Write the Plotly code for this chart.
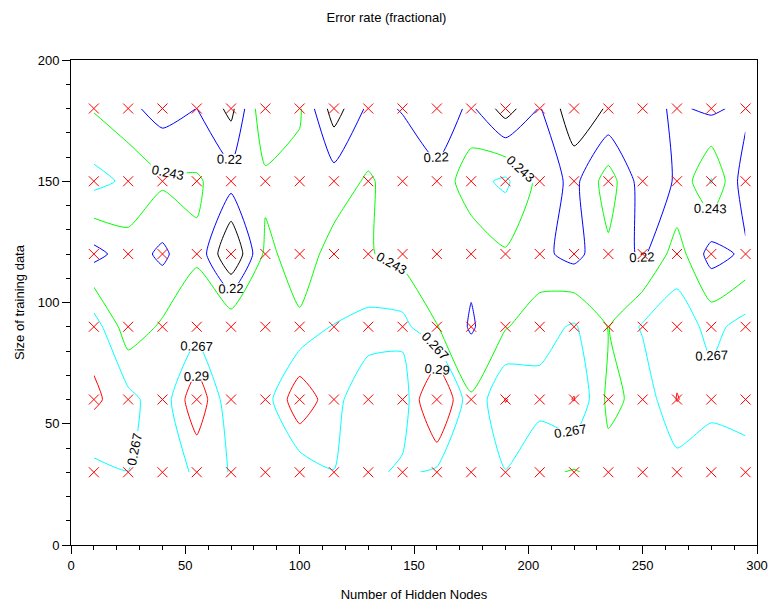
import plotly.graph_objects as go

# Grid of measurements
hidden_nodes = [10, 25, 40, 55, 70, 85, 100, 115, 130, 145, 160, 175, 190, 205, 220, 235, 250, 265, 280, 295]
train_size = [30, 60, 90, 120, 150, 180]

# Error rate per training size (rows) and number of hidden nodes (columns)
err_30 = [0.26, 0.2668, 0.26, 0.269, 0.2668, 0.255, 0.25, 0.2668, 0.26, 0.272, 0.262, 0.258, 0.266, 0.248, 0.241, 0.252, 0.25, 0.255, 0.25, 0.262]
err_60 = [0.295, 0.275, 0.252, 0.31, 0.247, 0.255, 0.31, 0.272, 0.255, 0.252, 0.33, 0.246, 0.291, 0.275, 0.291, 0.237, 0.25, 0.291, 0.275, 0.272]
err_90 = [0.28, 0.228, 0.247, 0.256, 0.2665, 0.255, 0.247, 0.268, 0.275, 0.275, 0.2435, 0.217, 0.241, 0.258, 0.27, 0.242, 0.27, 0.28, 0.26, 0.276]
err_120 = [0.212, 0.232, 0.215, 0.24, 0.17, 0.249, 0.232, 0.251, 0.245, 0.235, 0.236, 0.226, 0.24, 0.226, 0.212, 0.238, 0.215, 0.255, 0.21, 0.225]
err_150 = [0.275, 0.262, 0.247, 0.246, 0.23, 0.237, 0.235, 0.232, 0.246, 0.231, 0.226, 0.258, 0.272, 0.235, 0.213, 0.255, 0.208, 0.222, 0.269, 0.205]
err_180 = [0.241, 0.226, 0.21, 0.2202, 0.19, 0.265, 0.246, 0.185, 0.225, 0.219, 0.205, 0.225, 0.185, 0.222, 0.18, 0.2, 0.212, 0.2235, 0.215, 0.227]

levels = [0.197, 0.22, 0.243, 0.267, 0.29]
level_colors = ["#000000", "#0000ff", "#00ff00", "#00ffff", "#ff0000"]

x_ticks = [0, 50, 100, 150, 200, 250, 300]
y_ticks = [0, 50, 100, 150, 200]

z = [err_30, err_60, err_90, err_120, err_150, err_180]

fig = go.Figure()

for lev, col in zip(levels, level_colors):
    fig.add_trace(go.Contour(
        x=hidden_nodes, y=train_size, z=z,
        autocontour=False,
        contours=dict(start=lev, end=lev, size=1, coloring="lines",
                      showlabels=True, labelformat=".3~g",
                      labelfont=dict(family="Liberation Sans, Arial, sans-serif", size=13, color="black")),
        colorscale=[[0, col], [1, col]],
        line=dict(width=1, smoothing=0.5),
        showscale=False, hoverinfo="skip",
    ))

gx = [xv for yv in train_size for xv in hidden_nodes]
gy = [yv for yv in train_size for xv in hidden_nodes]
fig.add_trace(go.Scatter(
    x=gx, y=gy, mode="markers",
    marker=dict(symbol="x-thin", size=10, line=dict(color="#ff0000", width=1)),
    hoverinfo="skip", showlegend=False,
))

axis_font = dict(family="Liberation Sans, Arial, sans-serif", size=13, color="black")
fig.update_layout(
    width=773, height=608,
    margin=dict(l=71, r=16, t=60, b=63),
    paper_bgcolor="white", plot_bgcolor="white",
    showlegend=False,
    title=dict(text="Error rate (fractional)", x=0.5, xanchor="center", y=0.972, yanchor="middle",
               font=dict(family="Liberation Sans, Arial, sans-serif", size=13, color="black")),
    font=axis_font,
)
fig.update_xaxes(
    range=[0, 300], tickvals=x_ticks, ticks="outside", ticklen=8, tickcolor="black",
    showline=True, linecolor="black", linewidth=1, mirror=True, showgrid=False, zeroline=False,
    minor=dict(dtick=10, ticks="outside", ticklen=4, tickcolor="black"),
    title=dict(text="Number of Hidden Nodes", font=axis_font, standoff=18),
    tickfont=axis_font, automargin=False,
)
fig.update_yaxes(
    range=[0, 200], tickvals=y_ticks, ticks="outside", ticklen=8, tickcolor="black",
    showline=True, linecolor="black", linewidth=1, mirror=True, showgrid=False, zeroline=False,
    minor=dict(dtick=10, ticks="outside", ticklen=4, tickcolor="black"),
    title=dict(text="Size of training data", font=axis_font, standoff=10),
    tickfont=axis_font, automargin=False,
)

fig.write_html("out.html")
